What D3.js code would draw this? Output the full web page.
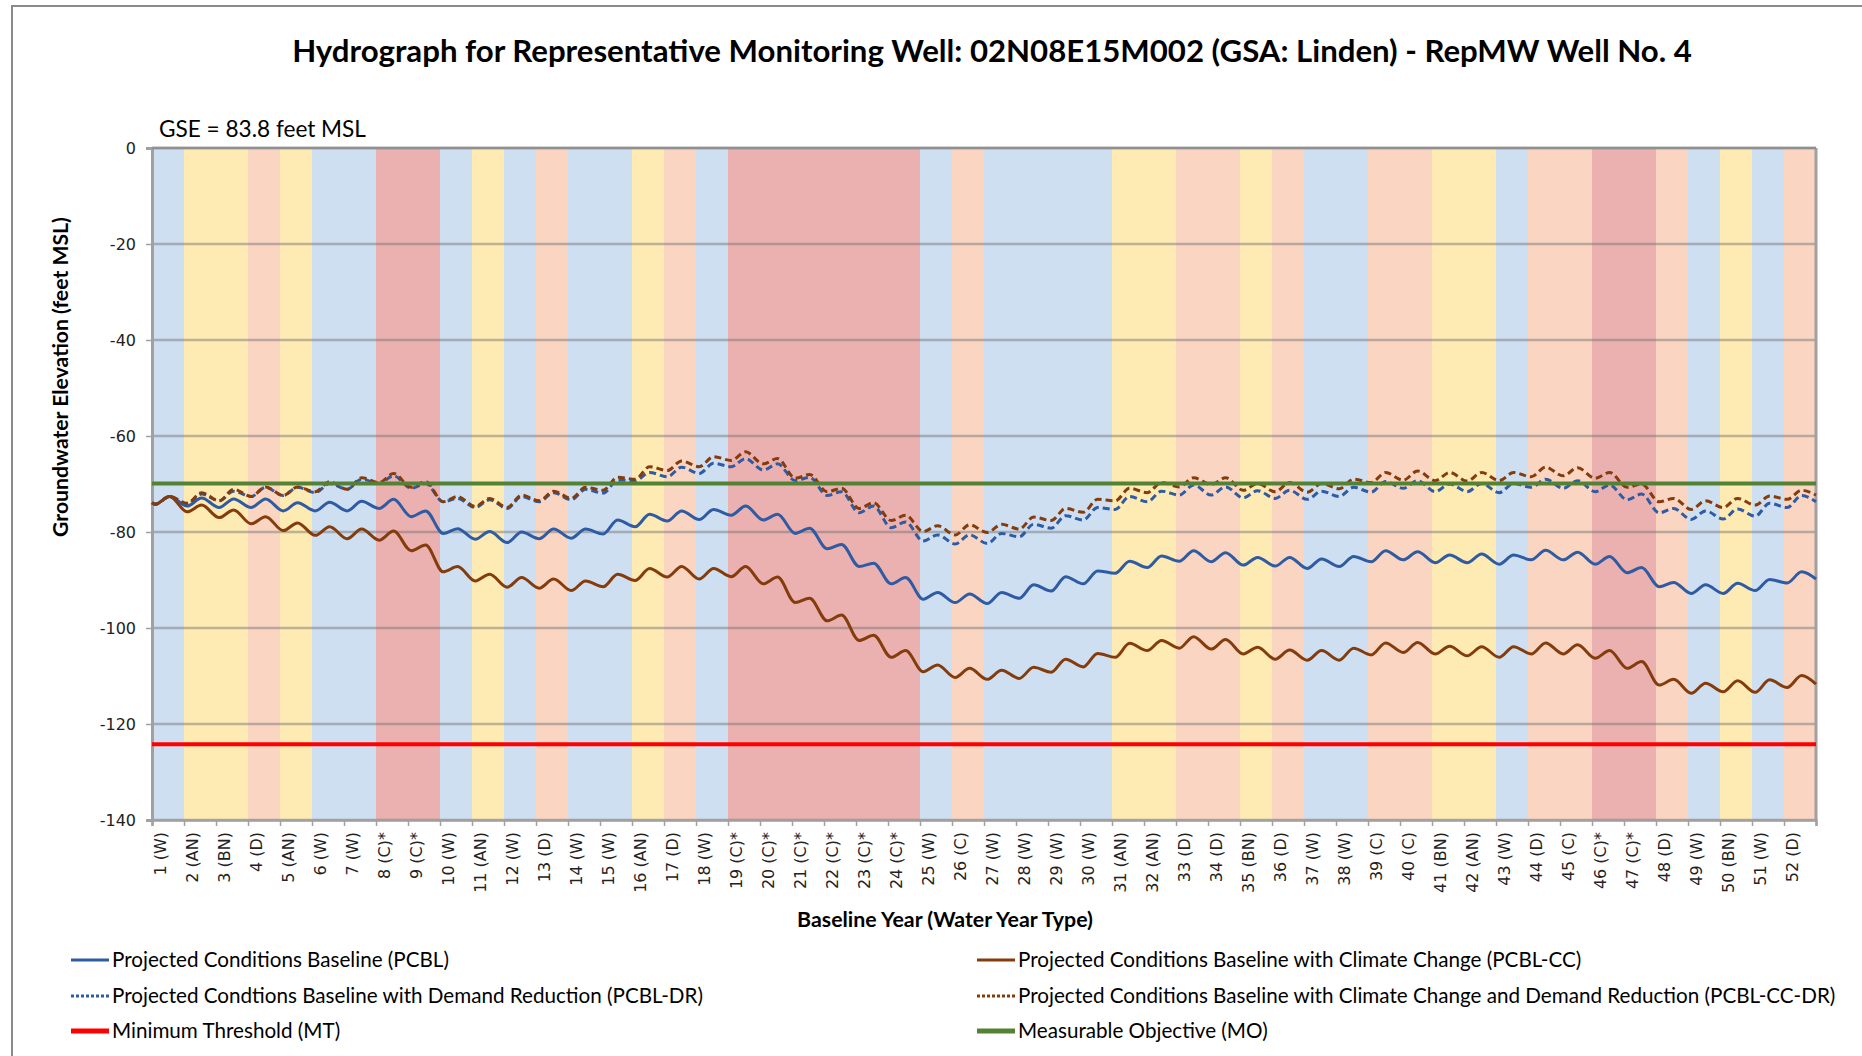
<!DOCTYPE html>
<html><head><meta charset="utf-8">
<script src="https://cdn.jsdelivr.net/npm/d3@7"></script>
<style>
html,body{margin:0;padding:0;background:#fff;overflow:hidden;}
svg{display:block;}
</style>
</head><body>
<svg id="chart" width="1862" height="1056"></svg>
<script>
// ---------------- DATA ----------------
const titleText = "Hydrograph for Representative Monitoring Well: 02N08E15M002 (GSA: Linden) - RepMW Well No. 4";
const gseText = "GSE = 83.8 feet MSL";
const yAxisTitle = "Groundwater Elevation (feet MSL)";
const xAxisTitle = "Baseline Year (Water Year Type)";

const yearTypes = ["W","AN","BN","D","AN","W","W","C*","C*","W","AN","W","D","W","W","AN","D","W",
  "C*","C*","C*","C*","C*","C*","W","C","W","W","W","W","AN","AN","D","D","BN","D","W","W","C","C",
  "BN","AN","W","D","C","C*","C*","D","W","BN","W","D"];
const yearLabels = yearTypes.map((t, i) => t.endsWith("*") ? `${i+1} (${t.slice(0,-1)})*` : `${i+1} (${t})`);

const yTickValues = [0, -20, -40, -60, -80, -100, -120, -140];
const yTickLabels = ["0", "-20", "-40", "-60", "-80", "-100", "-120", "-140"];

const minimumThreshold = -124.2;
const measurableObjective = -69.9;

// per-year seasonal lows (early in year) and highs (mid-year), plus start/end values
const seriesStart = { pcbl: -73.9, pcblCC: -73.9, pcblDR: -73.9, pcblCCDR: -73.9 };
const seriesEnd   = { pcbl: -89.8, pcblCC: -111.7, pcblDR: -73.7, pcblCCDR: -72.3 };

const pcblLow = [-74.2,-74.6,-74.9,-74.9,-75.6,-75.6,-75.6,-75.1,-76.8,-80.3,-81.5,-82.2,-81.4,-81.3,-80.4,-78.9,-77.7,-77.4,-76.5,-77.5,
  -80.3,-83.5,-87.2,-90.8,-94.0,-94.7,-94.9,-93.8,-92.3,-90.8,-88.6,-87.4,-86.1,-86.2,-86.9,-87.1,-87.6,-87.2,-86.2,-85.8,
  -86.4,-86.4,-86.7,-85.8,-85.8,-86.7,-88.5,-91.4,-92.8,-92.8,-92.2,-90.6];
const pcblHigh = [-72.6,-72.9,-73.1,-73.1,-73.9,-73.8,-73.6,-73.2,-75.6,-79.3,-79.9,-80.0,-79.4,-79.4,-77.5,-76.3,-75.6,-75.3,-74.6,-76.3,
  -79.2,-82.6,-86.5,-89.5,-92.6,-92.9,-92.6,-91.0,-89.3,-88.1,-86.1,-85.0,-83.9,-84.3,-85.3,-85.3,-85.6,-85.1,-83.9,-84.1,
  -84.8,-84.6,-84.8,-83.8,-84.2,-85.1,-87.4,-90.5,-91.0,-90.7,-89.9,-88.3];

const pcblCCLow = [-74.2,-75.8,-77.0,-78.3,-79.7,-80.7,-81.4,-81.7,-83.9,-88.3,-90.2,-91.5,-91.7,-92.2,-91.4,-90.1,-89.4,-89.8,-89.3,-90.8,
  -94.7,-98.5,-102.6,-106.1,-109.1,-110.3,-110.7,-110.5,-109.2,-108.1,-106.1,-104.7,-104.2,-104.4,-105.4,-106.5,-106.7,-106.7,-105.6,-105.1,
  -105.4,-105.8,-106.1,-105.4,-105.4,-106.3,-108.4,-111.9,-113.6,-113.3,-113.4,-112.4];
const pcblCCHigh = [-72.6,-74.4,-75.4,-76.8,-78.1,-78.9,-79.4,-79.8,-82.7,-87.2,-88.8,-89.5,-89.8,-90.2,-88.8,-87.6,-87.2,-87.6,-87.2,-89.4,
  -93.8,-97.3,-101.5,-104.7,-107.7,-108.4,-108.8,-108.2,-106.5,-105.3,-103.2,-102.6,-101.8,-102.4,-104.0,-104.6,-104.7,-104.2,-103.1,-103.0,
  -103.8,-103.9,-103.9,-103.1,-103.5,-104.7,-107.0,-110.7,-111.5,-111.0,-110.8,-109.9];

const pcblDRLow = [-74.2,-74.2,-73.5,-72.6,-72.4,-71.8,-71.1,-69.9,-70.9,-73.7,-74.9,-75.1,-73.7,-73.3,-71.9,-69.3,-68.5,-67.8,-66.4,-67.1,
  -69.3,-72.4,-76.0,-79.1,-81.9,-82.5,-82.4,-81.0,-79.2,-77.5,-75.3,-73.7,-72.3,-72.3,-72.9,-73.0,-73.2,-72.6,-71.7,-70.9,
  -71.6,-71.6,-71.8,-70.7,-70.9,-71.6,-73.3,-76.0,-77.4,-77.3,-76.7,-74.9];
const pcblDRHigh = [-72.6,-72.1,-71.5,-70.7,-70.7,-69.9,-69.0,-68.3,-69.9,-73.0,-73.3,-72.6,-71.8,-71.1,-69.2,-67.6,-66.5,-65.7,-64.7,-65.8,
  -68.6,-71.6,-74.6,-77.9,-80.6,-80.6,-80.3,-78.4,-76.6,-74.9,-72.6,-71.5,-70.2,-70.6,-71.4,-71.3,-71.5,-70.7,-69.5,-69.3,
  -70.0,-69.9,-69.9,-69.0,-69.3,-70.2,-72.1,-75.1,-75.6,-75.2,-74.0,-72.4];

const pcblCCDRLow = [-74.2,-74.0,-73.5,-72.6,-72.4,-71.6,-71.1,-69.7,-70.7,-73.7,-74.7,-74.9,-73.5,-73.0,-71.3,-69.0,-67.2,-66.4,-65.1,-65.8,
  -68.8,-71.6,-75.1,-77.6,-79.9,-80.6,-80.1,-79.4,-77.6,-75.9,-73.5,-71.8,-70.6,-70.1,-71.3,-71.6,-71.7,-71.0,-69.7,-69.2,
  -69.3,-69.4,-69.3,-68.5,-68.3,-68.8,-70.7,-73.7,-75.3,-74.9,-74.4,-73.2];
const pcblCCDRHigh = [-72.6,-71.8,-71.1,-70.6,-70.6,-69.5,-68.7,-67.8,-69.5,-72.6,-73.0,-72.3,-71.5,-70.7,-68.6,-66.4,-65.2,-64.3,-63.3,-64.7,
  -68.0,-70.9,-73.9,-76.5,-78.7,-78.5,-78.4,-76.9,-75.1,-73.2,-70.9,-69.7,-68.7,-68.7,-69.9,-69.7,-69.9,-69.0,-67.6,-67.3,
  -67.6,-67.6,-67.6,-66.5,-66.6,-67.6,-70.0,-73.0,-73.5,-73.0,-72.5,-71.3];

const legendLabels = {
  pcbl: "Projected Conditions Baseline (PCBL)",
  pcblCC: "Projected Conditions Baseline with Climate Change (PCBL-CC)",
  pcblDR: "Projected Condtions Baseline with Demand Reduction (PCBL-DR)",
  pcblCCDR: "Projected Conditions Baseline with Climate Change and Demand Reduction (PCBL-CC-DR)",
  mt: "Minimum Threshold (MT)",
  mo: "Measurable Objective (MO)"
};

// ---------------- STYLE ----------------
const bandColor = { "W":"#cedff1", "AN":"#feeab3", "BN":"#feeab3", "D":"#fad6c2", "C":"#fad6c2", "C*":"#ebb1b0" };
const colBlue = "#2f5ba3", colBrown = "#843c0c", colRed = "#ff0000", colGreen = "#548235";
const uiFont = "Lato, 'Open Sans', sans-serif";
const tickFont = "'DejaVu Sans', Verdana, sans-serif";

const W = 1862, H = 1056;
const plot = { left: 152, right: 1816, top: 148, bottom: 820 };

const svg = d3.select("#chart");
const x = d3.scaleLinear().domain([0, yearTypes.length]).range([plot.left, plot.right]);
const y = d3.scaleLinear().domain([-140, 0]).range([plot.bottom, plot.top]);

function fit(sel, target) {
  const len = sel.node().getComputedTextLength();
  const fs = parseFloat(sel.attr("font-size"));
  sel.attr("font-size", (fs * target / len).toFixed(2));
  return sel;
}

// outer chart frame
svg.append("rect").attr("x", 12).attr("y", 6).attr("width", W + 20).attr("height", H + 20)
  .attr("fill", "none").attr("stroke", "#8a8a8a").attr("stroke-width", 2);

// title
fit(svg.append("text").attr("x", 992).attr("y", 62).attr("text-anchor", "middle")
  .attr("font-family", uiFont).attr("font-weight", "bold").attr("font-size", 30).attr("fill", "#000")
  .text(titleText), 1400);

// GSE label
fit(svg.append("text").attr("x", 159).attr("y", 137)
  .attr("font-family", uiFont).attr("font-size", 22).attr("fill", "#000").text(gseText), 207);

// bands
svg.append("g").selectAll("rect").data(yearTypes).join("rect")
  .attr("x", (d, i) => x(i)).attr("y", plot.top)
  .attr("width", (d, i) => x(i + 1) - x(i)).attr("height", plot.bottom - plot.top)
  .attr("fill", d => bandColor[d]);

// gridlines
svg.append("g").selectAll("line").data(yTickValues).join("line")
  .attr("x1", plot.left).attr("x2", plot.right)
  .attr("y1", d => y(d)).attr("y2", d => y(d))
  .attr("stroke", "rgba(110,110,110,0.45)").attr("stroke-width", 2.5);

// y axis
const yAxis = d3.axisLeft(y).tickValues(yTickValues).tickSize(6).tickPadding(10)
  .tickFormat((d, i) => yTickLabels[i]);
const gy = svg.append("g").attr("transform", `translate(${plot.left},0)`).call(yAxis);
gy.select(".domain").attr("stroke", "#a0a0a0").attr("stroke-width", 3);
gy.selectAll(".tick line").attr("stroke", "#a0a0a0").attr("stroke-width", 1.5);
gy.selectAll(".tick text").attr("font-family", tickFont).attr("font-size", 16).attr("fill", "#222");

// x axis
const xAxis = d3.axisBottom(x).tickValues(d3.range(0, yearTypes.length + 1)).tickSize(6).tickFormat("");
const gx = svg.append("g").attr("transform", `translate(0,${plot.bottom})`).call(xAxis);
gx.select(".domain").attr("stroke", "#a0a0a0").attr("stroke-width", 2.5);
gx.selectAll(".tick line").attr("stroke", "#a0a0a0").attr("stroke-width", 1.5);
svg.append("g").selectAll("text").data(yearLabels).join("text")
  .attr("transform", (d, i) => `translate(${x(i) + 14},${plot.bottom + 12}) rotate(-90)`)
  .attr("text-anchor", "end")
  .attr("font-family", tickFont).attr("font-size", 16).attr("fill", "#222")
  .text(d => d);

// plot area right/top border
svg.append("line").attr("x1", plot.right).attr("x2", plot.right).attr("y1", plot.top).attr("y2", plot.bottom)
  .attr("stroke", "#a0a0a0").attr("stroke-width", 3);
svg.append("line").attr("x1", plot.left).attr("x2", plot.right).attr("y1", plot.top).attr("y2", plot.top)
  .attr("stroke", "#909090").attr("stroke-width", 2.5);

// series
function buildPoints(key, low, high) {
  const pts = [{ t: 0, v: seriesStart[key] }];
  low.forEach((lv, i) => {
    pts.push({ t: i + 0.1, v: lv });
    pts.push({ t: i + 0.55, v: high[i] });
  });
  pts.push({ t: yearTypes.length, v: seriesEnd[key] });
  return pts;
}
const line = d3.line().x(d => x(d.t)).y(d => y(d.v)).curve(d3.curveMonotoneX);

const series = [
  { key: "pcbl", pts: buildPoints("pcbl", pcblLow, pcblHigh), color: colBlue, dash: null },
  { key: "pcblCC", pts: buildPoints("pcblCC", pcblCCLow, pcblCCHigh), color: colBrown, dash: null },
  { key: "pcblDR", pts: buildPoints("pcblDR", pcblDRLow, pcblDRHigh), color: colBlue, dash: "7,4" },
  { key: "pcblCCDR", pts: buildPoints("pcblCCDR", pcblCCDRLow, pcblCCDRHigh), color: colBrown, dash: "7,4" }
];
svg.append("g").selectAll("path").data(series).join("path")
  .attr("d", d => line(d.pts)).attr("fill", "none")
  .attr("stroke", d => d.color).attr("stroke-width", 3)
  .attr("stroke-dasharray", d => d.dash);

// MT / MO
svg.append("line").attr("x1", plot.left).attr("x2", plot.right)
  .attr("y1", y(minimumThreshold)).attr("y2", y(minimumThreshold))
  .attr("stroke", colRed).attr("stroke-width", 4);
svg.append("line").attr("x1", plot.left).attr("x2", plot.right)
  .attr("y1", y(measurableObjective)).attr("y2", y(measurableObjective))
  .attr("stroke", colGreen).attr("stroke-width", 4);

// axis titles
fit(svg.append("text").attr("transform", `translate(68,377) rotate(-90)`).attr("text-anchor", "middle")
  .attr("font-family", uiFont).attr("font-weight", "bold").attr("font-size", 20).attr("fill", "#000")
  .text(yAxisTitle), 320);
fit(svg.append("text").attr("x", 945).attr("y", 927).attr("text-anchor", "middle")
  .attr("font-family", uiFont).attr("font-weight", "bold").attr("font-size", 20).attr("fill", "#000")
  .text(xAxisTitle), 296);

// legend
const legendItems = [
  { key: "pcbl", color: colBlue, dash: null, w: 3, col: 0, row: 0 },
  { key: "pcblCC", color: colBrown, dash: null, w: 3, col: 1, row: 0 },
  { key: "pcblDR", color: colBlue, dash: "3,2", w: 3, col: 0, row: 1 },
  { key: "pcblCCDR", color: colBrown, dash: "3,2", w: 3, col: 1, row: 1 },
  { key: "mt", color: colRed, dash: null, w: 5, col: 0, row: 2 },
  { key: "mo", color: colGreen, dash: null, w: 5, col: 1, row: 2 }
];
const legCols = [71, 977], legRows = [960, 996, 1031];
const lg = svg.append("g").selectAll("g").data(legendItems).join("g")
  .attr("transform", d => `translate(${legCols[d.col]},${legRows[d.row]})`);
lg.append("line").attr("x1", 0).attr("x2", 38).attr("y1", 0).attr("y2", 0)
  .attr("stroke", d => d.color).attr("stroke-width", d => d.w).attr("stroke-dasharray", d => d.dash);
lg.append("text").attr("x", 41).attr("y", 7).attr("font-family", uiFont).attr("font-size", 19.5)
  .attr("fill", "#000").text(d => legendLabels[d.key]);
fit(lg.filter(d => d.key === "pcbl").select("text"), 337);
const legFs = lg.filter(d => d.key === "pcbl").select("text").attr("font-size");
lg.selectAll("text").attr("font-size", legFs);
</script>
</body></html>
